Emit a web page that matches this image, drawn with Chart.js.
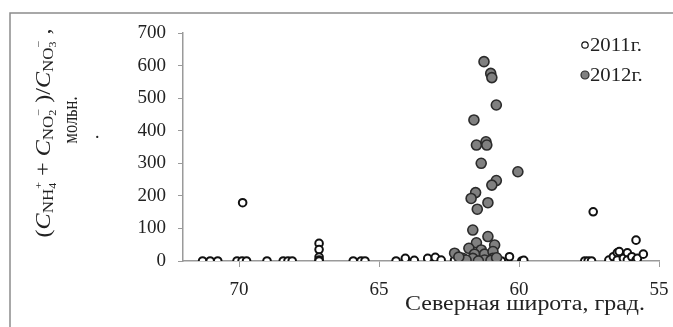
<!DOCTYPE html>
<html>
<head>
<meta charset="utf-8">
<script src="https://cdn.jsdelivr.net/npm/chart.js@4.4.0/dist/chart.umd.min.js"></script>
<style>
body { margin: 0; background: #fff; }
</style>
</head>
<body>
<canvas id="myChart" width="673" height="327"></canvas>
<script>
// latitude (deg N) and ratio values
var lat2011 = [71.30, 71.03, 70.76, 70.07, 69.89, 69.73, 69.87, 69.00, 68.42, 68.25, 68.10,
               67.14, 67.14, 67.14, 67.14, 67.14, 65.92, 65.64, 65.50, 64.39, 64.06, 63.74,
               63.26, 62.99, 62.78, 62.30, 62.00, 61.70, 61.40, 61.10, 60.90, 60.75, 60.63,
               60.34, 59.90, 59.83, 57.65, 57.53, 57.41, 57.35, 56.79, 56.63, 56.49, 56.49,
               56.42, 56.27, 56.13, 56.13, 55.97, 55.82, 55.82, 55.77, 55.56];
var val2011 = [0, 0, 0, 0, 0, 0, 179, 0, 0, 0, 0,
               54, 35, 12, 3, 0, 0, 0, 0, 0, 8, 2,
               8, 11, 3, 3, 0, 2, 0, 5, 0, 2, 0,
               13, 0, 2, 0, 0, 0, 151, 3, 13, 25, 3,
               29, 8, 25, 3, 13, 64, 3, 8, 21];
var lat2012 = [61.25, 61.01, 60.97, 60.81, 61.61, 61.52, 61.18, 61.15, 61.35, 60.04,
               60.81, 60.97, 61.55, 61.71, 61.11, 61.49, 61.65, 61.11, 61.52, 60.87,
               61.79, 61.35, 62.30, 61.23, 60.93, 61.59, 62.01, 61.65, 61.23, 60.93,
               61.89, 61.45, 61.00, 60.80, 62.15];
var val2012 = [612, 576, 563, 479, 433, 356, 366, 356, 300, 274,
               247, 233, 210, 192, 179, 159, 95, 75, 56, 49,
               39, 34, 24, 21, 29, 21, 8, 8, 3, 8,
               3, 0, 2, 10, 12];
var xTicks = [70, 65, 60, 55];
var seriesNames = ["2011г.", "2012г."];

var serif = '"Liberation Serif", "Times New Roman", serif';
Chart.defaults.font.family = serif;
Chart.defaults.color = '#222';

function toPoints(xs, ys) {
  return xs.map(function (x, i) { return { x: x, y: ys[i] }; });
}

function fontOf(r) {
  return (r.i ? 'italic ' : '') + r.s + 'px ' + serif;
}

// draws a row of text pieces (sub/superscripts) centred on cx
function drawRuns(ctx, runs, cx, baseY, length) {
  var total = 0;
  runs.forEach(function (r) {
    ctx.font = fontOf(r);
    r.w = ctx.measureText(r.t).width;
    if (!r.noAdv) total += r.w;
  });
  var k = length ? length / total : 1;
  ctx.save();
  ctx.translate(cx, baseY);
  ctx.scale(k, 1);
  var x = -total / 2;
  runs.forEach(function (r) {
    ctx.font = fontOf(r);
    ctx.fillText(r.t, x, r.dy || 0);
    if (!r.noAdv) x += r.w;
  });
  ctx.restore();
}

var decor = {
  id: 'decor',
  beforeDraw: function (chart) {
    var ctx = chart.ctx;
    ctx.save();
    ctx.fillStyle = '#fff';
    ctx.fillRect(0, 0, chart.width, chart.height);
    ctx.strokeStyle = '#8c8c8c';
    ctx.lineWidth = 1.5;
    ctx.beginPath();
    ctx.moveTo(10, chart.height);
    ctx.lineTo(10, 13);
    ctx.lineTo(chart.width, 13);
    ctx.stroke();
    ctx.restore();
  },
  afterDraw: function (chart) {
    var ctx = chart.ctx;
    var a = chart.chartArea;
    ctx.save();
    ctx.fillStyle = '#222';
    ctx.textBaseline = 'alphabetic';
    ctx.textAlign = 'left';

    // y axis title, rotated
    ctx.save();
    ctx.translate(50, 133);
    ctx.rotate(-Math.PI / 2);
    drawRuns(ctx, [
      { t: '(', s: 20 },
      { t: 'C', s: 20, i: true },
      { t: 'NH', s: 14, dy: 3 },
      { t: '4', s: 10, dy: 6, noAdv: true },
      { t: '+', s: 10, dy: -8 },
      { t: ' + ', s: 20 },
      { t: 'C', s: 20, i: true },
      { t: 'NO', s: 14, dy: 3 },
      { t: '2', s: 10, dy: 6, noAdv: true },
      { t: '−', s: 10, dy: -8 },
      { t: ' )/', s: 20 },
      { t: 'C', s: 20, i: true },
      { t: 'NO', s: 14, dy: 3 },
      { t: '3', s: 10, dy: 6, noAdv: true },
      { t: '−', s: 10, dy: -8 },
      { t: ' ,', s: 20 }
    ], 0, 0, 209);
    ctx.restore();

    ctx.save();
    ctx.translate(77, 120);
    ctx.rotate(-Math.PI / 2);
    drawRuns(ctx, [{ t: 'мольн.', s: 20 }], 0, 0, 47);
    ctx.restore();
    ctx.font = '18px ' + serif;
    ctx.fillText('.', 95, 138);

    // x axis title
    drawRuns(ctx, [{ t: 'Северная широта, град.', s: 20 }], a.right - 134, 310, 240);

    // legend
    var ds = chart.data.datasets;
    var rows = [{ y: a.top + 12, r: 3.2 }, { y: a.top + 42, r: 4 }];
    rows.forEach(function (row, i) {
      var d = ds[i];
      ctx.beginPath();
      ctx.arc(a.right - 74, row.y, row.r, 0, Math.PI * 2);
      ctx.fillStyle = d.pointBackgroundColor;
      ctx.fill();
      ctx.lineWidth = 1.2;
      ctx.strokeStyle = d.pointBorderColor;
      ctx.stroke();
      ctx.fillStyle = '#222';
      ctx.save();
      ctx.translate(a.right - 69, row.y + 6);
      ctx.scale(1.12, 1);
      ctx.font = '18.5px ' + serif;
      ctx.fillText(seriesNames[i], 0, 0);
      ctx.restore();
    });
    ctx.restore();
  }
};

new Chart("myChart", {
  type: "scatter",
  data: {
    datasets: [{
      label: seriesNames[0],
      data: toPoints(lat2011, val2011),
      order: 1,
      pointRadius: 3.8,
      pointBorderWidth: 2,
      pointBorderColor: '#111',
      pointBackgroundColor: '#fff'
    }, {
      label: seriesNames[1],
      data: toPoints(lat2012, val2012),
      order: 0,
      pointRadius: 5,
      pointBorderWidth: 1.6,
      pointBorderColor: '#2b2b2b',
      pointBackgroundColor: '#808080'
    }]
  },
  options: {
    responsive: false,
    animation: false,
    events: [],
    layout: { padding: { left: 0, top: 33, right: 14, bottom: 0 } },
    plugins: { legend: { display: false }, tooltip: { enabled: false } },
    scales: {
      x: {
        type: 'linear',
        reverse: true,
        min: 55,
        max: 72,
        afterBuildTicks: function (s) { s.ticks = xTicks.map(function (v) { return { value: v }; }); },
        afterFit: function (s) { s.height = 66; s.paddingLeft = 0; s.paddingRight = 0; },
        grid: { drawOnChartArea: false, tickLength: 6, color: '#9a9a9a' },
        border: { color: '#9a9a9a', width: 1.5 },
        ticks: { padding: 12, font: { size: 19 }, color: '#222', maxRotation: 0, autoSkip: false }
      },
      y: {
        min: 0,
        max: 700,
        afterFit: function (s) { s.width = 183; s.paddingTop = 0; s.paddingBottom = 0; },
        grid: { drawOnChartArea: false, tickLength: 5, color: '#9a9a9a' },
        border: { color: '#9a9a9a', width: 1.5 },
        ticks: { stepSize: 100, padding: 12, font: { size: 19 }, color: '#222' }
      }
    }
  },
  plugins: [decor]
});
</script>
</body>
</html>
